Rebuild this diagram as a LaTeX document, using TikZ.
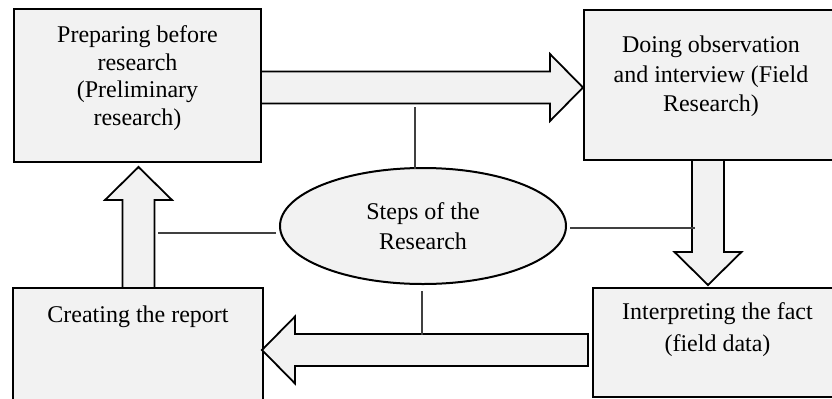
\documentclass[tikz,border=0pt]{standalone}
\usepackage{fontspec}
\setmainfont{Liberation Serif}
\usepackage{tikz}
\usetikzlibrary{shapes.geometric,calc,positioning}

\tikzset{
  stepbox/.style={draw, line width=1.1pt, fill=gray!10, inner sep=0pt, outer sep=0pt},
  steptext/.style={align=center, inner sep=0pt},
  bigarrow/.style={draw, line width=0.9pt, fill=gray!10, line join=miter},
  thinline/.style={line width=0.55pt, color=black!75},
}

\begin{document}
\begin{tikzpicture}[x=0.5pt, y=-0.5pt, font=\fontsize{12}{14}\selectfont]
\useasboundingbox (0,0) rectangle (832,398);
\clip (0,0) rectangle (832,398);
%%%%% Boxes %%%%%
\node[stepbox, minimum width=123.5pt, minimum height=76.5pt] (prep) at (137.5,85.5) {};
\node[stepbox, minimum width=127pt, minimum height=75pt] (field) at (711,85) {};
\node[stepbox, minimum width=124.5pt, minimum height=54.5pt] (fact) at (717.5,342.5) {};
\node[stepbox, minimum width=125pt, minimum height=91pt] (report) at (138,379) {};
\node[steptext, font=\fontsize{12}{13.75}\selectfont] (prepTxt) at (137.5,78) {Preparing before\\research\\(Preliminary\\research)};
\node[steptext, font=\fontsize{12}{14.75}\selectfont] (fieldTxt) at (711,76.5) {Doing observation\\and interview (Field\\Research)};
\node[steptext, font=\fontsize{12}{16}\selectfont] (factTxt) at (717.5,330) {Interpreting the fact\\(field data)};
\node[steptext] (reportTxt) at (138,316.5) {Creating the report};
%%%%% Block arrows %%%%%
\coordinate (a1) at ($(prep.east)+(0,2)$);
\coordinate (b1) at ($(field.west)+(-1,2.5)$);
\coordinate (a2) at ($(field.south)+(-3,0)$);
\coordinate (b2) at ($(fact.north)+(-9.5,-3)$);
\coordinate (a3) at ($(fact.west)+(-5,7.5)$);
\coordinate (b3) at ($(report.north east)+(-1,62)$);
\coordinate (a4) at ($(report.north)+(0.5,0)$);
\coordinate (b4) at ($(prep.south)+(1,5)$);
\foreach \src/\tip in {a1/b1, a2/b2, a3/b3, a4/b4}{
\coordinate (hb) at ($(\tip)!16.5pt!(\src)$);
\draw[bigarrow] ($(\src)!8pt!90:(\tip)$) -- ($(hb)!8pt!90:(\tip)$) -- ($(hb)!16.75pt!90:(\tip)$)
  -- (\tip) -- ($(hb)!16.75pt!-90:(\tip)$) -- ($(hb)!8pt!-90:(\tip)$) -- ($(\src)!8pt!-90:(\tip)$) -- cycle;
}
%%%%% Centre %%%%%
\node[ellipse, draw, line width=1pt, fill=gray!10, minimum width=143pt, minimum height=58pt,
  inner sep=0pt, align=center, font=\fontsize{12}{15}\selectfont] (steps) at (423,226) {Steps of the\\Research};
\coordinate (e1) at (415,107);
\coordinate (e2) at (158,233);
\coordinate (e3) at (695,228);
\coordinate (e4) at (422,335);
\draw[thinline] ($(steps.north)+(-8,2)$) -- (e1);
\draw[thinline] ($(steps.west)+(-3,7)$) -- (e2);
\draw[thinline] ($(steps.east)+(3,2)$) -- (e3);
\draw[thinline] ($(steps.south)+(-1,6)$) -- (e4);
\end{tikzpicture}
\end{document}
